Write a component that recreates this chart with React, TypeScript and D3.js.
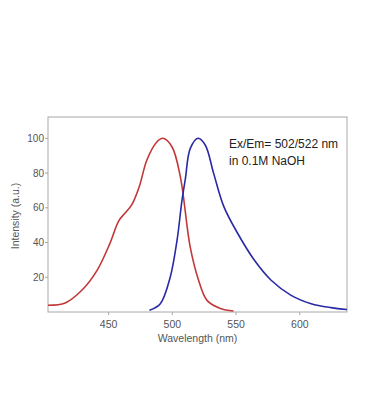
import React from "react";
import * as d3 from "d3";

// excitation spectrum (red)
const exWave = [402.5, 416, 429, 441, 451, 458, 463, 468, 474, 480, 488, 492.7, 499.8, 506.3, 514, 520.6, 527.2, 537.7, 548];
const exVal = [3.9, 5.2, 12.5, 24, 39.4, 52.5, 57, 61.5, 72, 87.4, 98, 100, 95, 77.8, 37.5, 18.3, 6.7, 2, 0.6];

// emission spectrum (blue)
const emWave = [482, 490.6, 498.4, 503.7, 507.6, 510.2, 514.1, 520.2, 525.9, 532.4, 540.5, 551.3, 564.4, 577.5, 593.2, 608.9, 624.6, 637];
const emVal = [1, 4.8, 20.2, 41.3, 64.4, 76.5, 94.2, 100, 96, 79.8, 60.5, 45.2, 29.8, 18.3, 9.6, 4.8, 2.5, 1.4];

const xTicks = [450, 500, 550, 600];
const yTicks = [20, 40, 60, 80, 100];
const note = ["Ex/Em= 502/522 nm", "in 0.1M NaOH"];

export default function App() {
  const width = 368;
  const height = 417;
  const left = 48;
  const right = 347;
  const top = 117;
  const bottom = 312;

  const x = d3.scaleLinear().domain([402.5, 637]).range([left, right]);
  const y = d3.scaleLinear().domain([0, 100]).range([bottom, 138.3]);

  const line = d3
    .line<[number, number]>()
    .x((d) => x(d[0]))
    .y((d) => y(d[1]))
    .curve(d3.curveCatmullRom.alpha(0.5));

  const ex = exWave.map((w, i) => [w, exVal[i]] as [number, number]);
  const em = emWave.map((w, i) => [w, emVal[i]] as [number, number]);

  const font = "Arial, 'Liberation Sans', sans-serif";
  const axisColor = "#a8a8a8";
  const textColor = "#555";

  return (
    <svg
      width={width}
      height={height}
      style={{ position: "absolute", left: 0, top: 0, background: "#fff" }}
      fontFamily={font}
    >
      <rect x={left} y={top} width={right - left} height={bottom - top} fill="none" stroke={axisColor} strokeWidth={1} />

      {xTicks.map((t) => (
        <g key={t}>
          <line x1={x(t)} x2={x(t)} y1={bottom} y2={bottom + 3} stroke={axisColor} />
          <text x={x(t)} y={328} fontSize={10.5} fill={textColor} textAnchor="middle">
            {t}
          </text>
        </g>
      ))}
      {yTicks.map((t) => (
        <g key={t}>
          <line x1={left - 3} x2={left} y1={y(t)} y2={y(t)} stroke={axisColor} />
          <text x={left - 4} y={y(t) + 3.5} fontSize={10} fill={textColor} textAnchor="end">
            {t}
          </text>
        </g>
      ))}

      <text x={(left + right) / 2} y={342} fontSize={10.5} fill={textColor} textAnchor="middle">
        Wavelength (nm)
      </text>
      <text
        transform={`translate(19, ${216}) rotate(-90)`}
        fontSize={10.5}
        fill={textColor}
        textAnchor="middle"
      >
        Intensity (a.u.)
      </text>

      <path d={line(ex) ?? ""} fill="none" stroke="#c23838" strokeWidth={1.6} />
      <path d={line(em) ?? ""} fill="none" stroke="#2a2aa6" strokeWidth={1.6} />

      {note.map((s, i) => (
        <text key={s} x={229} y={148 + i * 17} fontSize={12} fill="#222">
          {s}
        </text>
      ))}
    </svg>
  );
}
